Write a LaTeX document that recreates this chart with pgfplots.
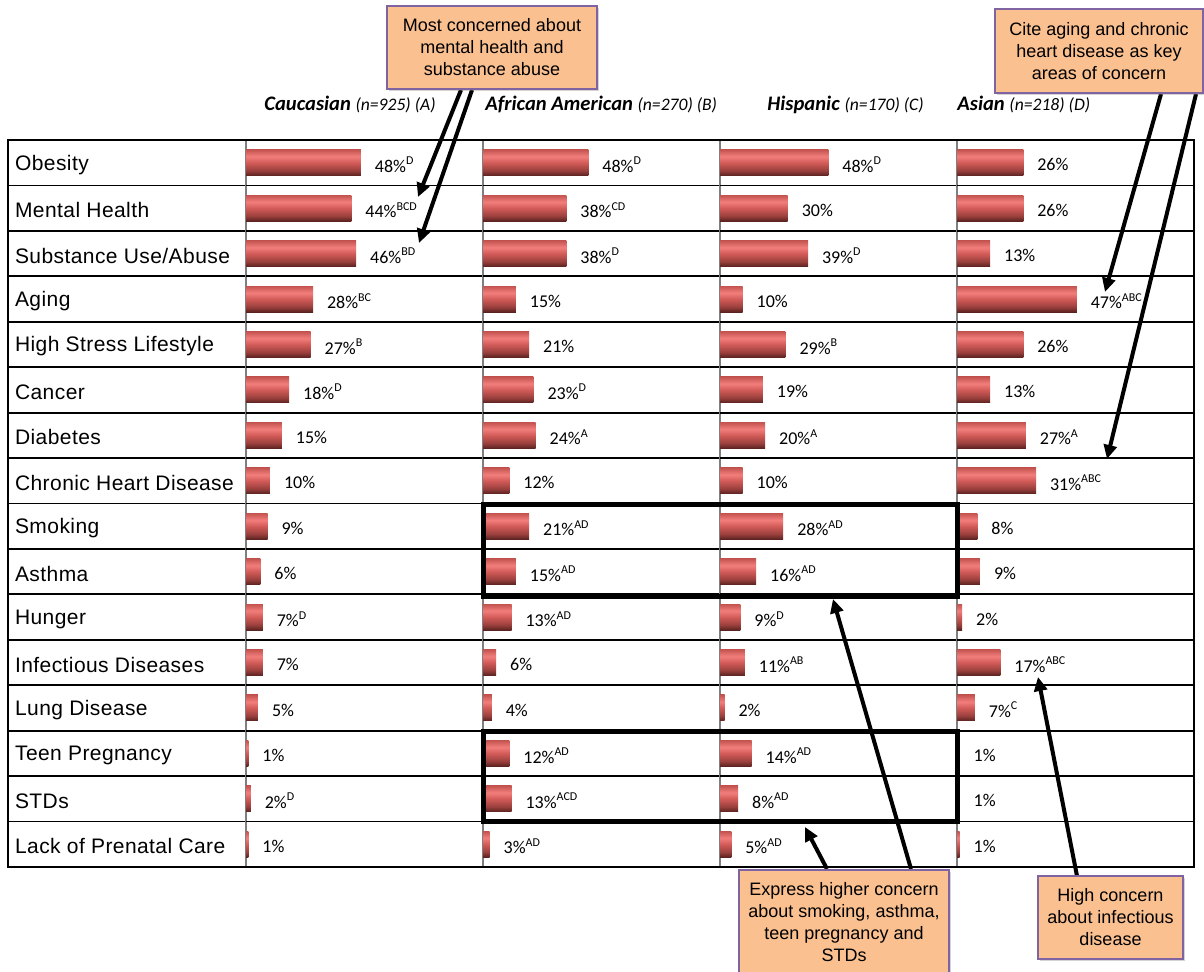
\documentclass[border=0pt]{standalone}
\usepackage{pgfplots}
\pgfplotsset{compat=1.18}
\usepackage{fontspec}
\setmainfont{Carlito}
\newfontfamily\arialfont[LetterSpace=2]{Liberation Sans}
\newfontfamily\calloutfont{Liberation Sans}
\usetikzlibrary{arrows.meta,shadows}
\definecolor{boxfill}{HTML}{FAC090}
\definecolor{boxdraw}{HTML}{8064A2}
\definecolor{sepgray}{HTML}{7F7F7F}
\definecolor{bTop}{HTML}{C45450}
\definecolor{bHi}{HTML}{F27E7C}
\definecolor{bMid}{HTML}{D25B58}
\definecolor{bLow}{HTML}{9A403D}
\definecolor{bBot}{HTML}{5A2220}
\pgfdeclareverticalshading{barshade}{100bp}{color(0bp)=(bBot); color(25bp)=(bBot); color(35bp)=(bLow); color(50bp)=(bMid); color(62bp)=(bHi); color(75bp)=(bTop); color(100bp)=(bTop)}
\pgfplotsset{
  tablegrid/.style={
    scale only axis, height=363.5pt, anchor=north west,
    ymin=0.5, ymax=16.5, y dir=reverse,
    xtick=\empty,
    major tick length=0pt,
    extra y ticks={1.5,2.5,...,15.5},
    extra y tick labels={},
    extra y tick style={ymajorgrids=true},
    major grid style={black, line width=0.9pt},
    clip=false,
  },
  grp/.style={
    tablegrid, width=118.5pt,
    xmin=0, ytick=\empty,
    separate axis lines,
    x axis line style={black, line width=0.9pt},
    y axis line style={sepgray, line width=1pt},
  },
  bars/.style={
    xbar, bar shift=0pt, bar width=13pt, draw=none, shade, shading=barshade,
    nodes near coords, point meta=explicit symbolic,
    nodes near coords align={horizontal},
    every node near coord/.append style={anchor=west, xshift=3.5pt, yshift=-1pt, text=black, font=\fontsize{9}{10}\selectfont},
  },
}
% one bar per \addplot, so that each bar gets its own shading
\newcommand\hb[3]{\addplot[bars] coordinates {(#1,#2)[#3]};}
\tikzset{
  callout/.style={fill=boxfill, draw=boxdraw, line width=1.1pt, drop shadow={shadow xshift=1pt, shadow yshift=-1pt, opacity=0.35}},
  arr/.style={black, line width=2pt, -{Triangle[length=7pt,width=6.5pt]}},
}
\begin{document}
\begin{tikzpicture}
\useasboundingbox (0pt,0pt) rectangle (602pt,-486pt);

% label column
\begin{axis}[tablegrid, at={(4pt,-70pt)}, width=119pt,
  xmin=0, xmax=1,
  ytick={1,...,16},
  yticklabels={Obesity, Mental Health, Substance Use/Abuse, Aging, High Stress Lifestyle, Cancer, Diabetes, Chronic Heart Disease, Smoking, Asthma, Hunger, Infectious Diseases, Lung Disease, Teen Pregnancy, STDs, Lack of Prenatal Care},
  yticklabel style={anchor=west, yshift=-1pt, font=\arialfont\fontsize{10.5}{12}\selectfont},
  axis line style={black, line width=0.9pt}]
\addplot[draw=none] coordinates {(0,1) (1,16)};
\end{axis}

% Caucasian (A)
\begin{axis}[grp, at={(123pt,-70pt)}, xmax=99]
\hb{48}{1}{48\%\textsuperscript{D}}
\hb{44}{2}{44\%\textsuperscript{BCD}}
\hb{46}{3}{46\%\textsuperscript{BD}}
\hb{28}{4}{28\%\textsuperscript{BC}}
\hb{27}{5}{27\%\textsuperscript{B}}
\hb{18}{6}{18\%\textsuperscript{D}}
\hb{15}{7}{15\%}
\hb{10}{8}{10\%}
\hb{9}{9}{9\%}
\hb{6}{10}{6\%}
\hb{7}{11}{7\%\textsuperscript{D}}
\hb{7}{12}{7\%}
\hb{5}{13}{5\%}
\hb{1}{14}{1\%}
\hb{2}{15}{2\%\textsuperscript{D}}
\hb{1}{16}{1\%}
\end{axis}

% African American (B)
\begin{axis}[grp, at={(241.5pt,-70pt)}, xmax=108]
\hb{48}{1}{48\%\textsuperscript{D}}
\hb{38}{2}{38\%\textsuperscript{CD}}
\hb{38}{3}{38\%\textsuperscript{D}}
\hb{15}{4}{15\%}
\hb{21}{5}{21\%}
\hb{23}{6}{23\%\textsuperscript{D}}
\hb{24}{7}{24\%\textsuperscript{A}}
\hb{12}{8}{12\%}
\hb{21}{9}{21\%\textsuperscript{AD}}
\hb{15}{10}{15\%\textsuperscript{AD}}
\hb{13}{11}{13\%\textsuperscript{AD}}
\hb{6}{12}{6\%}
\hb{4}{13}{4\%}
\hb{12}{14}{12\%\textsuperscript{AD}}
\hb{13}{15}{13\%\textsuperscript{ACD}}
\hb{3}{16}{3\%\textsuperscript{AD}}
\end{axis}

% Hispanic (C)
\begin{axis}[grp, at={(360pt,-70pt)}, xmax=105]
\hb{48}{1}{48\%\textsuperscript{D}}
\hb{30}{2}{30\%}
\hb{39}{3}{39\%\textsuperscript{D}}
\hb{10}{4}{10\%}
\hb{29}{5}{29\%\textsuperscript{B}}
\hb{19}{6}{19\%}
\hb{20}{7}{20\%\textsuperscript{A}}
\hb{10}{8}{10\%}
\hb{28}{9}{28\%\textsuperscript{AD}}
\hb{16}{10}{16\%\textsuperscript{AD}}
\hb{9}{11}{9\%\textsuperscript{D}}
\hb{11}{12}{11\%\textsuperscript{AB}}
\hb{2}{13}{2\%}
\hb{14}{14}{14\%\textsuperscript{AD}}
\hb{8}{15}{8\%\textsuperscript{AD}}
\hb{5}{16}{5\%\textsuperscript{AD}}
\end{axis}

% Asian (D)
\begin{axis}[grp, at={(478.5pt,-70pt)}, xmax=93]
\hb{26}{1}{26\%}
\hb{26}{2}{26\%}
\hb{13}{3}{13\%}
\hb{47}{4}{47\%\textsuperscript{ABC}}
\hb{26}{5}{26\%}
\hb{13}{6}{13\%}
\hb{27}{7}{27\%\textsuperscript{A}}
\hb{31}{8}{31\%\textsuperscript{ABC}}
\hb{8}{9}{8\%}
\hb{9}{10}{9\%}
\hb{2}{11}{2\%}
\hb{17}{12}{17\%\textsuperscript{ABC}}
\hb{7}{13}{7\%\textsuperscript{C}}
\hb{1}{14}{1\%}
\hb{1}{15}{1\%}
\hb{1}{16}{1\%}
\end{axis}

% outer border
\draw[black, line width=0.9pt] (4pt,-70pt) rectangle (597pt,-433.5pt);

% thick highlight boxes
\draw[black, line width=2.5pt] (241.5pt,-252.5pt) rectangle (478.5pt,-298pt);
\draw[black, line width=2.5pt] (241.5pt,-365.5pt) rectangle (478.5pt,-410.8pt);

% column headers
\node[anchor=base west, inner sep=0pt] at (132pt,-55.5pt) {\fontsize{10.3}{12}\selectfont\textbf{\textit{Caucasian}} {\fontsize{8.8}{10}\selectfont\textit{(n=925) (A)}}};
\node[anchor=base west, inner sep=0pt] at (242.5pt,-55.5pt) {\fontsize{10.3}{12}\selectfont\textbf{\textit{African American}} {\fontsize{8.8}{10}\selectfont\textit{(n=270) (B)}}};
\node[anchor=base west, inner sep=0pt] at (383.5pt,-55.5pt) {\fontsize{10.3}{12}\selectfont\textbf{\textit{Hispanic}} {\fontsize{8.8}{10}\selectfont\textit{(n=170) (C)}}};
\node[anchor=base west, inner sep=0pt] at (478.5pt,-55.5pt) {\fontsize{10.3}{12}\selectfont\textbf{\textit{Asian}} {\fontsize{8.8}{10}\selectfont\textit{(n=218) (D)}}};

% arrows
\draw[arr] (230.5pt,-45pt) -- (209pt,-98.5pt);
\draw[arr] (236pt,-45pt) -- (209.5pt,-121.5pt);
\draw[arr] (580.5pt,-47pt) -- (552.5pt,-146pt);
\draw[arr] (598pt,-47pt) -- (553.5pt,-229.5pt);
\draw[arr] (413.5pt,-434.5pt) -- (402.5pt,-413.5pt);
\draw[arr] (455.5pt,-434.5pt) -- (416.5pt,-299.5pt);
\draw[arr] (538.5pt,-438pt) -- (519pt,-338.5pt);

% callouts
\draw[callout] (193.5pt,-3pt) rectangle (298.5pt,-44.5pt);
\node[align=center, font=\calloutfont\fontsize{9}{11}\selectfont] at (246pt,-23.75pt) {Most concerned about\\mental health and\\substance abuse};
\draw[callout] (497.5pt,-4.5pt) rectangle (601.5pt,-46.5pt);
\node[align=center, font=\calloutfont\fontsize{9}{11}\selectfont] at (549.5pt,-25.5pt) {Cite aging and chronic\\heart disease as key\\areas of concern};
\draw[callout] (369.5pt,-435pt) rectangle (474.5pt,-495pt);
\node[align=center, anchor=north, inner sep=0pt, font=\calloutfont\fontsize{9}{11}\selectfont] at (422pt,-441pt) {Express higher concern\\about smoking, asthma,\\teen pregnancy and\\STDs};
\draw[callout] (519pt,-438pt) rectangle (591.5pt,-479.5pt);
\node[align=center, font=\calloutfont\fontsize{9}{11}\selectfont] at (555.25pt,-458.75pt) {High concern\\about infectious\\disease};
\end{tikzpicture}
\end{document}
